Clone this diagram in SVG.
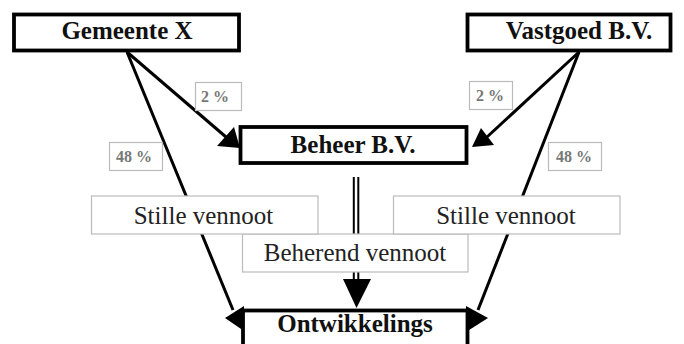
<svg xmlns="http://www.w3.org/2000/svg" width="684" height="344" viewBox="0 0 684 344">
<style>
.box{fill:#fff;stroke:#000;stroke-width:3.8}
.lbl{fill:#fff;stroke:#bbb;stroke-width:1.2}
.t{font-family:"Liberation Serif","Times New Roman",serif;font-size:25px;font-weight:bold;fill:#111;text-anchor:middle}
.r{font-family:"Liberation Serif","Times New Roman",serif;font-size:25px;fill:#222;text-anchor:middle}
.p{font-family:"Liberation Serif","Times New Roman",serif;font-size:16px;font-weight:bold;fill:#777;text-anchor:middle}
.ln{stroke:#000;stroke-width:3;fill:none}
.dl{stroke:#000;stroke-width:2;fill:none}
</style>
<rect width="684" height="344" fill="#fff"/>
<g id="connectors">
<line class="ln" x1="127" y1="52" x2="226" y2="137"/>
<line class="ln" x1="127" y1="52" x2="233" y2="310"/>
<line class="ln" x1="579" y1="52" x2="487" y2="137"/>
<line class="ln" x1="579" y1="52" x2="478" y2="310"/>
<line class="dl" x1="353.8" y1="177" x2="353.8" y2="281"/>
<line class="dl" x1="358.3" y1="177" x2="358.3" y2="281"/>
<polygon points="217,146 234,127 240,148"/>
<polygon points="494,145 481,128 472,147"/>
<polygon points="225,318 244,306 244,331"/>
<polygon points="488,318 466,306 466,332"/>
<polygon points="343,279 371,279 356.5,308"/>
</g>
<g id="gemeente">
<rect class="box" x="14" y="14.5" width="225" height="36"/>
<text class="t" x="127" y="38.5">Gemeente X</text>
</g>
<g id="vastgoed">
<rect class="box" x="467.5" y="14.5" width="203" height="36"/>
<text class="t" x="579" y="38.5">Vastgoed B.V.</text>
</g>
<g id="beheer">
<rect class="box" x="240.5" y="127" width="226" height="36"/>
<text class="t" x="353" y="153">Beheer B.V.</text>
</g>
<g id="ontwikkelings">
<rect class="box" x="243" y="310.5" width="224.5" height="50"/>
<text class="t" x="355" y="332">Ontwikkelings</text>
</g>
<g id="label-2-left">
<rect class="lbl" x="195.5" y="82.5" width="46" height="28"/>
<text class="p" x="215" y="102">2 %</text>
</g>
<g id="label-2-right">
<rect class="lbl" x="469.5" y="81.5" width="43" height="28"/>
<text class="p" x="490" y="101">2 %</text>
</g>
<g id="label-48-left">
<rect class="lbl" x="109.5" y="142.5" width="53" height="28"/>
<text class="p" x="134" y="162">48 %</text>
</g>
<g id="label-48-right">
<rect class="lbl" x="548.5" y="142.5" width="53" height="28"/>
<text class="p" x="574" y="162">48 %</text>
</g>
<g id="beherend">
<rect class="lbl" x="242.5" y="234" width="225.5" height="38"/>
<text class="r" x="355" y="261">Beherend vennoot</text>
</g>
<g id="stille-left">
<rect class="lbl" x="91.5" y="196" width="226.5" height="38"/>
<text class="r" x="203.5" y="224">Stille vennoot</text>
</g>
<g id="stille-right">
<rect class="lbl" x="393.5" y="196" width="226.5" height="38"/>
<text class="r" x="506" y="224">Stille vennoot</text>
</g>
</svg>
